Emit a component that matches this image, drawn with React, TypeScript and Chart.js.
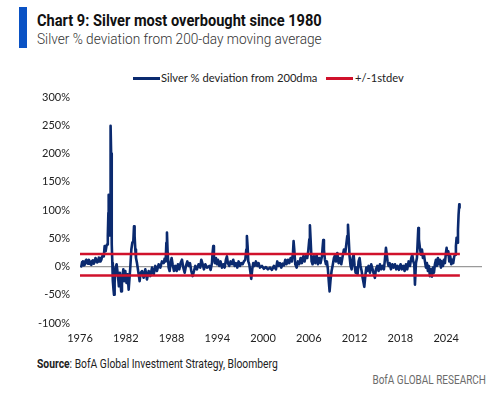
import React, { useEffect, useRef } from 'react';
import { Chart, registerables } from 'chart.js';

Chart.register(...registerables);

// ---- Data ----
const dates: number[] = [
  1976.17, 1976.28, 1976.39, 1976.5, 1976.61, 1976.72, 1976.83, 1976.94, 1977.05, 1977.16,
  1977.27, 1977.38, 1977.49, 1977.6, 1977.7, 1977.81, 1977.92, 1978.03, 1978.14, 1978.25,
  1978.36, 1978.47, 1978.58, 1978.69, 1978.8, 1978.9, 1979.01, 1979.12, 1979.23, 1979.3,
  1979.36, 1979.45, 1979.54, 1979.62, 1979.67, 1979.72, 1979.76, 1979.81, 1979.85, 1979.89,
  1979.94, 1979.98, 1980.04, 1980.08, 1980.13, 1980.19, 1980.24, 1980.3, 1980.4, 1980.46,
  1980.54, 1980.65, 1980.8, 1980.98, 1981.1, 1981.22, 1981.4, 1981.5, 1981.68, 1981.8,
  1981.94, 1982.1, 1982.24, 1982.38, 1982.51, 1982.6, 1982.73, 1982.86, 1982.99, 1983.08,
  1983.16, 1983.25, 1983.34, 1983.47, 1983.56, 1983.69, 1983.82, 1983.95, 1984.13, 1984.34,
  1984.56, 1984.78, 1985.0, 1985.22, 1985.44, 1985.66, 1985.87, 1986.09, 1986.31, 1986.53,
  1986.75, 1986.97, 1987.1, 1987.23, 1987.32, 1987.4, 1987.49, 1987.62, 1987.75, 1987.88,
  1988.01, 1988.14, 1988.32, 1988.5, 1988.67, 1988.84, 1989.02, 1989.19, 1989.37, 1989.54,
  1989.72, 1989.89, 1990.07, 1990.24, 1990.42, 1990.59, 1990.77, 1990.94, 1991.12, 1991.33,
  1991.55, 1991.77, 1991.9, 1992.08, 1992.25, 1992.43, 1992.65, 1992.95, 1993.12, 1993.3,
  1993.38, 1993.47, 1993.56, 1993.69, 1993.82, 1993.95, 1994.08, 1994.26, 1994.43, 1994.61,
  1994.78, 1994.96, 1995.13, 1995.26, 1995.39, 1995.57, 1995.74, 1995.92, 1996.09, 1996.27,
  1996.44, 1996.62, 1996.79, 1996.97, 1997.14, 1997.32, 1997.49, 1997.67, 1997.8, 1997.88,
  1997.97, 1998.06, 1998.19, 1998.32, 1998.45, 1998.58, 1998.71, 1998.89, 1999.06, 1999.24,
  1999.41, 1999.59, 1999.85, 2000.11, 2000.37, 2000.64, 2000.9, 2001.16, 2001.42, 2001.69,
  2001.86, 2002.04, 2002.21, 2002.39, 2002.56, 2002.74, 2002.91, 2003.08, 2003.26, 2003.43,
  2003.61, 2003.78, 2003.92, 2004.0, 2004.09, 2004.22, 2004.4, 2004.57, 2004.74, 2004.92,
  2005.09, 2005.27, 2005.44, 2005.62, 2005.79, 2005.92, 2006.06, 2006.14, 2006.23, 2006.36,
  2006.49, 2006.67, 2006.84, 2007.02, 2007.19, 2007.37, 2007.54, 2007.72, 2007.8, 2007.89,
  2007.98, 2008.11, 2008.24, 2008.37, 2008.5, 2008.63, 2008.72, 2008.85, 2008.98, 2009.11,
  2009.29, 2009.46, 2009.55, 2009.73, 2009.9, 2010.08, 2010.25, 2010.43, 2010.6, 2010.78,
  2010.91, 2011.04, 2011.13, 2011.21, 2011.34, 2011.47, 2011.61, 2011.74, 2011.87, 2012.0,
  2012.13, 2012.26, 2012.39, 2012.52, 2012.65, 2012.78, 2012.92, 2013.05, 2013.18, 2013.27,
  2013.4, 2013.53, 2013.66, 2013.83, 2014.01, 2014.18, 2014.36, 2014.53, 2014.66, 2014.79,
  2014.97, 2015.14, 2015.32, 2015.49, 2015.67, 2015.84, 2015.97, 2016.11, 2016.19, 2016.32,
  2016.45, 2016.59, 2016.76, 2016.94, 2017.11, 2017.29, 2017.46, 2017.63, 2017.81, 2018.03,
  2018.2, 2018.38, 2018.55, 2018.73, 2018.9, 2019.08, 2019.25, 2019.43, 2019.56, 2019.69,
  2019.82, 2019.91, 2020.04, 2020.17, 2020.26, 2020.35, 2020.43, 2020.56, 2020.69, 2020.83,
  2020.96, 2021.09, 2021.22, 2021.35, 2021.48, 2021.61, 2021.74, 2021.87, 2022.0, 2022.14,
  2022.27, 2022.4, 2022.53, 2022.66, 2022.79, 2022.92, 2023.05, 2023.19, 2023.32, 2023.45,
  2023.58, 2023.71, 2023.84, 2023.97, 2024.06, 2024.15, 2024.28, 2024.41, 2024.54, 2024.67,
  2024.8, 2024.93, 2025.06, 2025.19, 2025.28, 2025.37, 2025.46, 2025.55, 2025.63, 2025.72,
  2025.76,
];

const silverDev: number[] = [
  0, 8, 9, 2, 3, 10, 12, 6, 5, 12,
  9, 4, 3, 10, 11, 5, 8, 15, 13, 7,
  9, 16, 15, 9, 12, 18, 21, 18, 36, 30,
  27, 35, 39, 48, 54, 95, 127, 110, 70, 55,
  120, 180, 249, 200, 110, 40, 6, -25, -42, -50,
  -29, -2, 4, -17, -35, -11, -44, -23, -5, -26,
  -8, -29, -14, -41, -17, 0, 30, 42, 45, 71,
  54, 30, 15, 6, -2, -14, -26, -11, -8, -20,
  -5, -23, -8, -17, -2, -14, 1, -8, 4, -2,
  9, 6, 14, 9, 42, 60, 24, -2, -8, 6,
  15, 4, -8, 1, -8, 4, -5, 6, 12, -2,
  -11, 1, 9, 1, 6, -8, -17, -8, 1, -5,
  4, -2, 12, 4, -5, 4, -2, 1, -6, 6,
  24, 36, 18, 6, 15, 4, 12, 1, 9, -2,
  4, -2, 12, 18, 6, 1, 9, 4, 12, 1,
  6, -2, 9, 1, 6, 4, 9, 12, 30, 54,
  36, 9, 4, -8, -22, -5, 6, 1, 9, 1,
  6, -2, 1, -4, -1, -5, -2, -6, 1, -5,
  9, 1, 6, -2, 5, 2, 12, 4, 12, 6,
  15, 9, 24, 45, 30, 4, -2, 9, 4, 15,
  6, 18, 9, 21, 15, 27, 48, 73, 48, 9,
  4, 18, 6, 21, 4, 15, 6, 18, 33, 47,
  30, 12, 4, 9, -5, -29, -44, -23, -8, 1,
  15, 21, 9, 24, 6, 15, 4, 18, 30, 24,
  39, 54, 74, 54, 18, 1, -5, 15, 21, 1,
  -11, -2, -14, 9, 15, 1, -8, -20, -29, -36,
  -17, -2, -8, 1, -11, 4, -5, -14, -20, -5,
  1, -8, 4, -5, 1, -5, 12, 33, 24, 9,
  1, 6, -5, 4, -2, 4, -5, 1, -6, 4,
  -5, 1, -8, 4, -5, 9, 1, 15, 21, 9,
  4, -32, 6, 15, 42, 68, 48, 33, 21, 30,
  15, 21, 9, -2, 6, -8, 1, -17, -5, -18,
  -2, -11, 4, 12, 1, 15, 4, 12, -2, 9,
  1, 12, 6, 24, 33, 21, 27, 9, 18, 4,
  12, 6, 18, 21, 36, 51, 42, 65, 92, 110,
  104,
];

const bandDates: number[] = [1976.0, 2025.8];
const upperStdev = 22;
const lowerStdev = -16;

const yTicks: number[] = [-100, -50, 0, 50, 100, 150, 200, 250, 300];
const xTickYears: number[] = [1976, 1982, 1988, 1994, 2000, 2006, 2012, 2018, 2024];
const X_MIN = 1976.0;
const X_MAX = 2028.7;

const NAVY = '#0b2a6f';
const RED = '#d0112b';
const TICK_FONT = { family: 'Lato', size: 11 };

export default function App() {
  const canvasRef = useRef<HTMLCanvasElement>(null);

  useEffect(() => {
    const canvas = canvasRef.current;
    if (!canvas) return;
    const chart = new Chart(canvas, {
      type: 'line',
      data: {
        datasets: [
          {
            label: 'Silver % deviation from 200dma',
            data: dates.map((d, i) => ({ x: d, y: silverDev[i] })),
            borderColor: NAVY,
            backgroundColor: NAVY,
            borderWidth: 2.6,
            pointRadius: 0,
            tension: 0,
            borderJoinStyle: 'round',
            borderCapStyle: 'round',
            order: 2,
          },
          {
            label: '+/-1stdev',
            data: bandDates.map((d) => ({ x: d, y: upperStdev })),
            borderColor: RED,
            backgroundColor: RED,
            borderWidth: 2.6,
            pointRadius: 0,
            order: 1,
          },
          {
            label: '+/-1stdev (lower)',
            data: bandDates.map((d) => ({ x: d, y: lowerStdev })),
            borderColor: RED,
            backgroundColor: RED,
            borderWidth: 2.6,
            pointRadius: 0,
            order: 1,
          },
        ],
      },
      options: {
        responsive: false,
        animation: false,
        devicePixelRatio: 1,
        layout: { padding: { top: 7, right: 18, left: 0, bottom: 0 } },
        plugins: {
          legend: { display: false },
          tooltip: { enabled: false },
        },
        scales: {
          x: {
            type: 'linear',
            min: X_MIN,
            max: X_MAX,
            afterBuildTicks: (s: any) => {
              s.ticks = xTickYears.map((v) => ({ value: v }));
            },
            afterFit: (s: any) => {
              s.height = 27;
            },
            grid: { display: false, drawTicks: false },
            border: { display: false },
            ticks: {
              callback: (v: any) => String(v),
              font: TICK_FONT,
              color: '#222',
              padding: 9,
              maxRotation: 0,
              autoSkip: false,
            },
          },
          y: {
            min: -100,
            max: 300,
            afterBuildTicks: (s: any) => {
              s.ticks = yTicks.map((v) => ({ value: v }));
            },
            afterFit: (s: any) => {
              s.width = 80;
              s.paddingTop = 0;
              s.paddingBottom = 0;
            },
            grid: {
              color: (c: any) => (c.tick && c.tick.value === 0 ? '#9a9a9a' : 'rgba(0,0,0,0)'),
              lineWidth: 1.3,
              drawTicks: false,
            },
            border: { display: false },
            ticks: {
              callback: (v: any) => v + '%',
              font: TICK_FONT,
              color: '#222',
              padding: 10,
            },
          },
        },
      },
    } as any);
    return () => chart.destroy();
  }, []);

  const abs = (s: React.CSSProperties): React.CSSProperties => ({ position: 'absolute', whiteSpace: 'nowrap', ...s });

  return (
    <div style={{ position: 'fixed', left: 0, top: 0, width: 500, height: 396, background: '#fff', overflow: 'hidden' }}>
      <div style={abs({ left: 19, top: 7, width: 8, height: 41, background: '#0a52c4' })} />
      <div
        style={abs({
          left: 37, top: 10, fontFamily: 'Roboto', fontWeight: 700, fontSize: 17, lineHeight: '20px',
          color: '#111', transform: 'scaleX(0.86)', transformOrigin: 'left center',
        })}
      >
        Chart 9: Silver most overbought since 1980
      </div>
      <div
        style={abs({
          left: 37, top: 30, fontFamily: 'Roboto', fontWeight: 300, fontSize: 15, lineHeight: '18px',
          color: '#333', transform: 'scaleX(0.91)', transformOrigin: 'left center',
        })}
      >
        Silver % deviation from 200-day moving average
      </div>

      {/* legend */}
      <div style={abs({ left: 133, top: 77, width: 27, height: 3, background: NAVY })} />
      <div style={abs({ left: 161, top: 71, fontFamily: 'Lato', fontSize: 11.2, lineHeight: '14px', color: '#222' })}>
        Silver % deviation from 200dma
      </div>
      <div style={abs({ left: 326, top: 77, width: 27, height: 3, background: RED })} />
      <div style={abs({ left: 355, top: 71, fontFamily: 'Lato', fontSize: 11.2, lineHeight: '14px', color: '#222' })}>
        +/-1stdev
      </div>

      <div style={abs({ left: 0, top: 90, width: 500, height: 260 })}>
        <canvas ref={canvasRef} width={500} height={260} style={{ display: 'block' }} />
      </div>

      <div
        style={abs({
          left: 37, top: 357, fontFamily: 'Roboto', fontSize: 12, lineHeight: '14px', color: '#222',
          transform: 'scaleX(0.86)', transformOrigin: 'left center',
        })}
      >
        <b>Source</b>: BofA Global Investment Strategy, Bloomberg
      </div>
      <div
        style={abs({
          right: 14, top: 372, fontFamily: 'Roboto', fontSize: 12.5, lineHeight: '15px', color: '#6b6b6b',
          transform: 'scaleX(0.8)', transformOrigin: 'right center',
        })}
      >
        BofA GLOBAL RESEARCH
      </div>
    </div>
  );
}
